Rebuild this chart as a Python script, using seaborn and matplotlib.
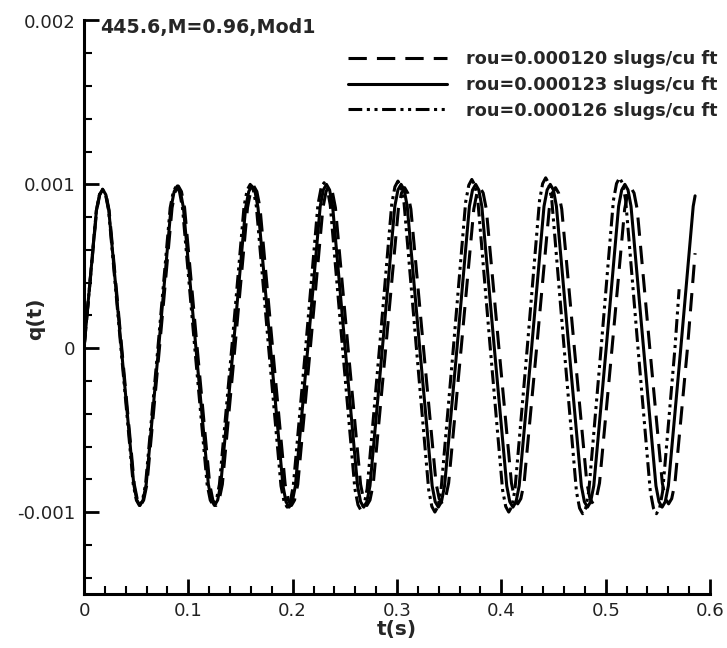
import matplotlib
matplotlib.use("Agg")
import matplotlib.pyplot as plt
import seaborn as sns
import numpy as np
from matplotlib.ticker import MultipleLocator, FixedLocator, FuncFormatter

# Curves, q in units of 1e-3
labels = ['rou=0.000120 slugs/cu ft', 'rou=0.000123 slugs/cu ft', 'rou=0.000126 slugs/cu ft']
title_txt = '445.6,M=0.96,Mod1'

# rou=0.000120 (dashed)
t_120 = [0, 0.0121, 0.0151, 0.0181, 0.0211, 0.0241, 0.0362, 0.0482, 0.0512, 0.0542, 0.0572, 0.0603,
         0.0723, 0.0844, 0.0874, 0.0904, 0.0934, 0.0964, 0.1085, 0.1205, 0.1235, 0.1265, 0.1295, 0.1326,
         0.1446, 0.1567, 0.1597, 0.1627, 0.1657, 0.1687, 0.1808, 0.1928, 0.1958, 0.1988, 0.2018, 0.2049,
         0.2169, 0.229, 0.232, 0.235, 0.238, 0.241, 0.2531, 0.2651, 0.2681, 0.2711, 0.2741, 0.2772,
         0.2892, 0.3013, 0.3043, 0.3073, 0.3103, 0.3133, 0.3254, 0.3374, 0.3404, 0.3434, 0.3464, 0.3495,
         0.3615, 0.3736, 0.3766, 0.3796, 0.3826, 0.3856, 0.3977, 0.4097, 0.4127, 0.4157, 0.4187, 0.4218,
         0.4338, 0.4459, 0.4489, 0.4519, 0.4549, 0.4579, 0.47, 0.482, 0.485, 0.488, 0.491, 0.4941,
         0.5061, 0.5182, 0.5212, 0.5242, 0.5272, 0.5302, 0.5423, 0.5543, 0.5573, 0.5603, 0.5633, 0.5664,
         0.5784, 0.5857]
q_120 = [0, .84, .937, .97, .937, .84, 0, -.831, -.927, -.96, -.927, -.831,
         0, .857, .956, .99, .956, .857, 0, -.831, -.927, -.96, -.927, -.831,
         0, .857, .956, .99, .956, .857, 0, -.831, -.927, -.96, -.927, -.831,
         0, .857, .956, .99, .956, .857, 0, -.831, -.927, -.96, -.927, -.831,
         0, .849, .947, .98, .947, .849, 0, -.823, -.918, -.95, -.918, -.823,
         0, .849, .947, .98, .947, .849, 0, -.823, -.918, -.95, -.918, -.823,
         0, .849, .947, .98, .947, .849, 0, -.823, -.918, -.95, -.918, -.823,
         0, .849, .947, .98, .947, .849, 0, -.823, -.918, -.95, -.918, -.823,
         0, .58]

# rou=0.000123 (solid)
t_123 = [0, 0.0119, 0.0149, 0.0179, 0.0209, 0.0238, 0.0358, 0.0477, 0.0506, 0.0536, 0.0566, 0.0596,
         0.0715, 0.0834, 0.0864, 0.0894, 0.0924, 0.0953, 0.1073, 0.1192, 0.1221, 0.1251, 0.1281, 0.1311,
         0.143, 0.1549, 0.1579, 0.1609, 0.1639, 0.1668, 0.1788, 0.1907, 0.1936, 0.1966, 0.1996, 0.2026,
         0.2145, 0.2264, 0.2294, 0.2324, 0.2354, 0.2383, 0.2503, 0.2622, 0.2651, 0.2681, 0.2711, 0.2741,
         0.286, 0.2979, 0.3009, 0.3039, 0.3069, 0.3098, 0.3218, 0.3337, 0.3366, 0.3396, 0.3426, 0.3456,
         0.3575, 0.3694, 0.3724, 0.3754, 0.3784, 0.3813, 0.3933, 0.4052, 0.4081, 0.4111, 0.4141, 0.4171,
         0.429, 0.4409, 0.4439, 0.4469, 0.4499, 0.4528, 0.4648, 0.4767, 0.4796, 0.4826, 0.4856, 0.4886,
         0.5005, 0.5124, 0.5154, 0.5184, 0.5214, 0.5243, 0.5363, 0.5482, 0.5511, 0.5541, 0.5571, 0.5601,
         0.572, 0.5839, 0.5857]
q_123 = [0, .84, .937, .97, .937, .84, 0, -.831, -.927, -.96, -.927, -.831,
         0, .857, .956, .99, .956, .857, 0, -.831, -.927, -.96, -.927, -.831,
         0, .857, .956, .99, .956, .857, 0, -.84, -.937, -.97, -.937, -.84,
         0, .866, .966, 1.0, .966, .866, 0, -.84, -.937, -.97, -.937, -.84,
         0, .866, .966, 1.0, .966, .866, 0, -.84, -.937, -.97, -.937, -.84,
         0, .866, .966, 1.0, .966, .866, 0, -.84, -.937, -.97, -.937, -.84,
         0, .866, .966, 1.0, .966, .866, 0, -.84, -.937, -.97, -.937, -.84,
         0, .866, .966, 1.0, .966, .866, 0, -.84, -.937, -.97, -.937, -.84,
         0, .866, .93]

# rou=0.000126 (dash-dot-dot)
t_126 = [0, 0.0118, 0.0148, 0.0177, 0.0207, 0.0236, 0.0354, 0.0472, 0.0502, 0.0531, 0.0561, 0.059,
         0.0708, 0.0826, 0.0856, 0.0885, 0.0915, 0.0944, 0.1062, 0.118, 0.121, 0.1239, 0.1269, 0.1298,
         0.1416, 0.1534, 0.1564, 0.1593, 0.1623, 0.1652, 0.177, 0.1888, 0.1918, 0.1947, 0.1977, 0.2006,
         0.2124, 0.2242, 0.2272, 0.2301, 0.2331, 0.236, 0.2478, 0.2596, 0.2626, 0.2655, 0.2685, 0.2714,
         0.2832, 0.295, 0.298, 0.3009, 0.3039, 0.3068, 0.3186, 0.3304, 0.3334, 0.3363, 0.3393, 0.3422,
         0.354, 0.3658, 0.3688, 0.3717, 0.3747, 0.3776, 0.3894, 0.4012, 0.4042, 0.4071, 0.4101, 0.413,
         0.4248, 0.4366, 0.4396, 0.4425, 0.4455, 0.4484, 0.4602, 0.472, 0.475, 0.4779, 0.4809, 0.4838,
         0.4956, 0.5074, 0.5104, 0.5133, 0.5163, 0.5192, 0.531, 0.5428, 0.5458, 0.5487, 0.5517, 0.5546,
         0.5664, 0.5704]
q_126 = [0, .84, .937, .97, .937, .84, 0, -.831, -.927, -.96, -.927, -.831,
         0, .857, .956, .99, .956, .857, 0, -.831, -.927, -.96, -.927, -.831,
         0, .866, .966, 1.0, .966, .866, 0, -.84, -.937, -.97, -.937, -.84,
         0, .875, .976, 1.01, .976, .875, 0, -.857, -.956, -.99, -.956, -.857,
         0, .883, .985, 1.02, .985, .883, 0, -.866, -.966, -1.0, -.966, -.866,
         0, .892, .995, 1.03, .995, .892, 0, -.866, -.966, -1.0, -.966, -.866,
         0, .901, 1.005, 1.04, 1.005, .901, 0, -.875, -.976, -1.01, -.976, -.875,
         0, .901, 1.005, 1.04, 1.005, .901, 0, -.875, -.976, -1.01, -.976, -.875,
         0, .36]

x_ticks = [0, 0.1, 0.2, 0.3, 0.4, 0.5, 0.6]
y_ticks = [-0.001, 0, 0.001, 0.002]

sns.set_style('ticks')
plt.rcParams['font.family'] = ['DejaVu Sans']

fig = plt.figure(figsize=(7.27, 6.48), dpi=100)
ax = fig.add_axes([84 / 727, 1 - 594 / 648, 626 / 727, 573.5 / 648])

# Line styles: long dash, solid, dash-dot-dot
line_styles = [(0, (6, 3.3)), '-', (0, (4.5, 1.5, 1, 1.5, 1, 1.5))]
series = [(t_120, q_120), (t_123, q_123), (t_126, q_126)]
for (t, q), lab, ls in zip(series, labels, line_styles):
    sns.lineplot(x=t, y=np.array(q) * 1e-3, ax=ax, color='black', lw=2.2,
                 linestyle=ls, label=lab, estimator=None, sort=False)

ax.set_xlim(0, 0.6)
ax.set_ylim(-0.0015, 0.002)

fmt = FuncFormatter(lambda v, p: f'{v:g}')
ax.xaxis.set_major_locator(FixedLocator(x_ticks))
ax.xaxis.set_minor_locator(MultipleLocator(0.02))
ax.yaxis.set_major_locator(FixedLocator(y_ticks))
ax.yaxis.set_minor_locator(MultipleLocator(0.0002))
ax.xaxis.set_major_formatter(fmt)
ax.yaxis.set_major_formatter(fmt)

ax.tick_params(which='major', direction='in', length=10.8, width=2, labelsize=13.1,
               pad=6, colors='black', labelcolor='#222222')
ax.tick_params(which='minor', direction='in', length=5.8, width=1.5, colors='black')

sns.despine(ax=ax)
for side in ['left', 'bottom']:
    ax.spines[side].set_linewidth(2.2)
    ax.spines[side].set_color('black')

ax.set_xlabel('t(s)', fontsize=14.5, fontweight='bold')
ax.set_ylabel('q(t)', fontsize=14.5, fontweight='bold')
ax.xaxis.set_label_coords(0.5, -0.046)
ax.yaxis.set_label_coords(-0.062, 0.48)

ax.text(0.026, 1.005, title_txt, transform=ax.transAxes, fontsize=13.7,
        fontweight='bold', va='top', ha='left')

ax.legend(loc='upper right', bbox_to_anchor=(1.012, 0.949), frameon=False,
          prop={'weight': 'bold', 'size': 12.7}, handlelength=5.6, handletextpad=1.1,
          labelspacing=0.45, borderpad=0, borderaxespad=0)

fig.savefig('out.png', dpi=100)
